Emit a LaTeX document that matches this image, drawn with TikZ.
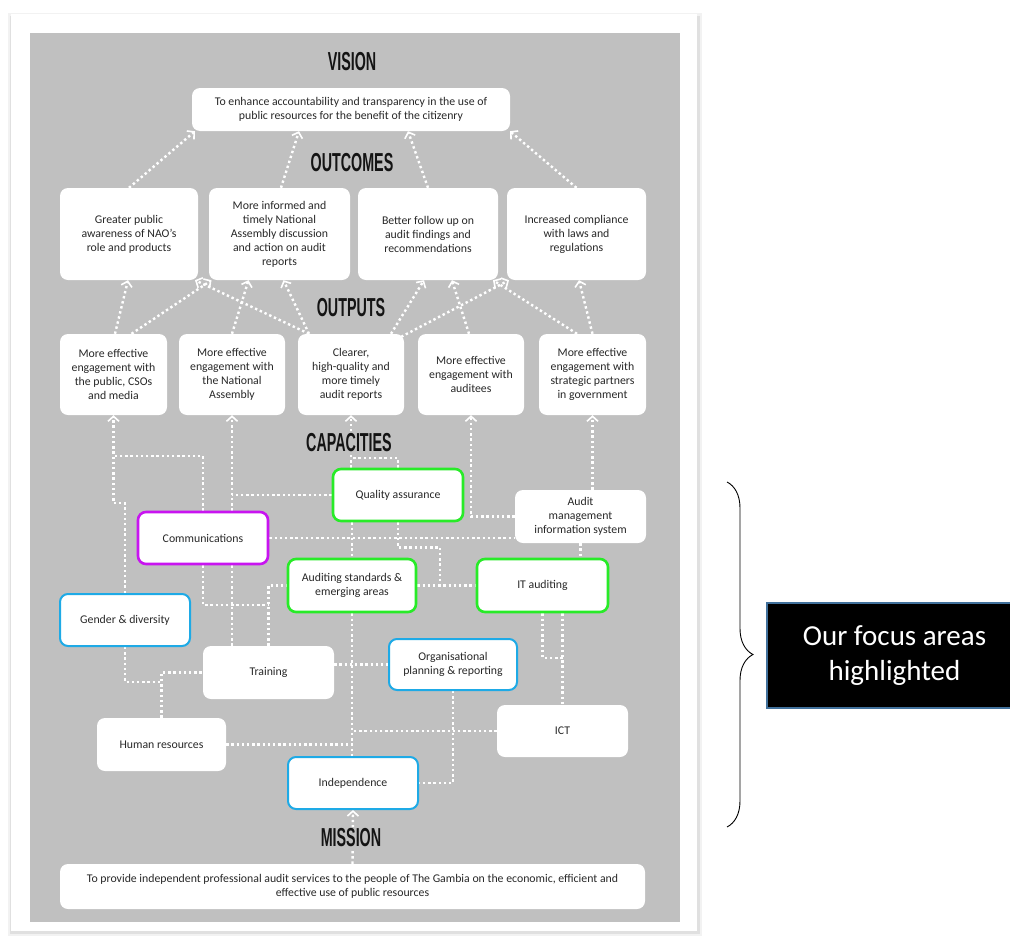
\documentclass[tikz,border=0pt]{standalone}
\usepackage{fontspec}
\usepackage{graphicx}
\setmainfont{Carlito}
\newfontfamily\headfont{Liberation Sans}
\usetikzlibrary{arrows.meta,calc,decorations.pathreplacing}
\pgfdeclarelayer{bgzero}
\pgfdeclarelayer{background}
\pgfsetlayers{bgzero,background,main}
\definecolor{panel}{RGB}{192,192,192}
\definecolor{txt}{RGB}{40,40,40}
\definecolor{titlecol}{RGB}{20,20,20}
\definecolor{focusgreen}{RGB}{40,235,40}
\definecolor{focuspurple}{RGB}{200,20,240}
\definecolor{focusblue}{RGB}{30,170,230}
\definecolor{calloutedge}{RGB}{65,113,156}
\newcommand\bodyfont{\fontsize{11.8}{14}\selectfont}
\newcommand\ttltext[1]{\scalebox{0.55}[1]{#1}}
\begin{document}
\begin{tikzpicture}[x=1pt,y=-1pt,
  box/.style={rounded corners=8pt, fill=white, align=center, font=\bodyfont, text=txt, inner sep=1pt},
  gbox/.style={box, draw=focusgreen, line width=2.6pt},
  pbox/.style={box, draw=focuspurple, line width=2.6pt},
  bbox/.style={box, draw=focusblue, line width=2pt},
  link/.style={white, line width=2.4pt, dash pattern=on 2.4pt off 2.8pt},
  arr/.style={link, -{Straight Barb[length=5pt,width=11pt,line width=1.6pt]}},
  ttl/.style={fill=panel, inner sep=2pt, text=titlecol, font=\headfont\bfseries\fontsize{26}{26}\selectfont}
]
\useasboundingbox (0,0) rectangle (1010,937);
% page
\begin{pgfonlayer}{bgzero}
\fill[black!5] (8,13) rectangle (702,936);
\fill[black!12] (9.5,15.5) rectangle (699.5,933.5);
\fill[white] (11,14) rectangle (697,931);
\fill[panel] (30,33) rectangle (680,922);
\end{pgfonlayer}

% titles
\node[ttl] (tvision) at (352,62) {\ttltext{VISION}};
\node[ttl] (toutcomes) at (352,163) {\ttltext{OUTCOMES}};
\node[ttl] (toutputs) at (351,308) {\ttltext{OUTPUTS}};
\node[ttl] (tcap) at (349,443) {\ttltext{CAPACITIES}};
\node[ttl] (tmission) at (351,838) {\ttltext{MISSION}};

% vision
\node[box, minimum width=318, minimum height=43] (vision) at (351,109.5)
  {To enhance accountability and transparency in the use of\\public resources for the benefit of the citizenry};

% outcomes
\node[box, minimum width=138, minimum height=92] (oc1) at (129,234)
  {Greater public\\awareness of NAO’s\\role and products};
\node[box, minimum width=141, minimum height=92] (oc2) at (279.5,234)
  {More informed and\\timely National\\Assembly discussion\\and action on audit\\reports};
\node[box, minimum width=140, minimum height=92] (oc3) at (428,234)
  {Better follow up on\\audit findings and\\recommendations};
\node[box, minimum width=139, minimum height=92] (oc4) at (576.5,234)
  {Increased compliance\\with laws and\\regulations};

% outputs
\node[box, minimum width=107, minimum height=81] (op1) at (113.5,374.5)
  {More effective\\engagement with\\the public, CSOs\\and media};
\node[box, minimum width=106, minimum height=81] (op2) at (232,374.5)
  {More effective\\engagement with\\the National\\Assembly};
\node[box, minimum width=106, minimum height=81] (op3) at (351,374.5)
  {Clearer,\\high-quality and\\more timely\\audit reports};
\node[box, minimum width=106, minimum height=81] (op4) at (471,374.5)
  {More effective\\engagement with\\auditees};
\node[box, minimum width=107, minimum height=81] (op5) at (592.5,374.5)
  {More effective\\engagement with\\strategic partners\\in government};

% capacities
\node[gbox, minimum width=130, minimum height=52] (qa) at (398,495) {Quality assurance};
\node[box, minimum width=131, minimum height=53] (amis) at (580.5,516.5) {Audit\\management\\information system};
\node[pbox, minimum width=130, minimum height=52] (comms) at (203,538) {Communications};
\node[gbox, minimum width=128, minimum height=53] (audstd) at (352,585.5) {Auditing standards \&\\emerging areas};
\node[gbox, minimum width=131, minimum height=53] (it) at (542.5,585.5) {IT auditing};
\node[bbox, minimum width=130, minimum height=52] (gender) at (125,620) {Gender \& diversity};
\node[box, minimum width=131, minimum height=53] (training) at (268.5,672.5) {Training};
\node[bbox, minimum width=128, minimum height=51] (opr) at (453,664.5) {Organisational\\planning \& reporting};
\node[box, minimum width=129, minimum height=53] (hr) at (161.5,744.5) {Human resources};
\node[box, minimum width=131, minimum height=52] (ict) at (562.5,731) {ICT};
\node[bbox, minimum width=130, minimum height=52] (indep) at (353,783) {Independence};

% mission
\node[box, minimum width=585, minimum height=45] (mission) at (352.5,886.5)
  {To provide independent professional audit services to the people of The Gambia on the economic, efficient and\\effective use of public resources};

% connectors
\begin{pgfonlayer}{background}
% outcomes -> vision
\draw[arr] (oc1.north) -- ([xshift=-156pt]vision.south);
\draw[arr] ([xshift=1.5pt]oc2.north) -- ([xshift=-52pt]vision.south);
\draw[arr] (oc3.north) -- ([xshift=57pt]vision.south);
\draw[arr] (oc4.north) -- ([xshift=159pt]vision.south);
% outputs -> outcomes
\draw[arr] ([xshift=1.5pt]op1.north) -- ([xshift=-1pt]oc1.south);
\draw[arr] ([xshift=18pt]op1.north) -- ([xshift=-68pt]oc2.south);
\draw[arr] (op2.north) -- ([xshift=-31pt]oc2.south);
\draw[arr] ([xshift=-42pt]op3.north) -- ([xshift=66pt]oc1.south);
\draw[arr] ([xshift=-42pt]op3.north) -- ([xshift=4pt]oc2.south);
\draw[arr] ([xshift=40pt]op3.north) -- ([xshift=-4pt]oc3.south);
\draw[arr] ([xshift=-3pt,yshift=-3pt]op3.north east) -- ([xshift=-67.5pt]oc4.south);
\draw[arr] ([xshift=-2pt]op4.north) -- ([xshift=24pt]oc3.south);
\draw[arr] ([xshift=-15.5pt]op5.north) -- ([xshift=65pt]oc3.south);
\draw[arr] (op5.north) -- ([xshift=2.5pt]oc4.south);
% capacities -> outputs
\draw[arr] (gender.north) |- ($(op1.south)+(0,88)$) -- (op1.south);
\draw[link] (comms.north) |- ($(op1.south)+(0,41)$);
\draw[arr] (comms.north -| op2.south) -- (op2.south);
\draw[link] (qa.west) -- (qa.west -| op2.south);
\draw[link] (comms.south -| op2.south) -- (training.north -| op2.south);
\draw[link] (comms.south) |- ($(training.north)+(0,-41)$);
\draw[link] (training.north) |- (audstd.west);
\draw[arr] (qa.north -| op3.south) -- (op3.south);
\draw[link] (qa.north) |- ($(op3.south)+(0,43)$);
\draw[link] (qa.south -| audstd.north) -- (audstd.north);
\draw[link] (qa.south) -- ++(0,25) -| ($(audstd.east)!0.39!(it.west)$);
\draw[link] (audstd.east) -- (it.west);
\draw[link] (comms.east) -- (comms.east -| amis.west);
\draw[arr] (amis.west) -| (op4.south);
\draw[arr] (amis.north -| op5.south) -- (op5.south);
\draw[link] (amis.south) -- (amis.south |- it.north);
\draw[link] (it.south -| ict.north) -- (ict.north);
\draw[link] (it.south) |- ($(ict.north)+(0,-47)$);
\draw[link] (training.east |- opr.west) -- (opr.west);
\draw[link] (opr.south) |- (indep.east);
\draw[link] (ict.west) -- (ict.west -| audstd.south);
\draw[link] (hr.east) -- (hr.east -| audstd.south);
\draw[link] (audstd.south) -- (audstd.south |- indep.north);
\draw[link] (hr.north) |- (training.west);
\draw[link] (gender.south) |- ($(hr.north)+(0,-36)$);
\draw[arr] (mission.north) -- (indep.south);
\end{pgfonlayer}

% brace and callout
\draw[line width=0.9pt, decorate, decoration={brace, amplitude=26pt}] (727,482) -- (727,827);
\node[fill=black, draw=calloutedge, line width=1.5pt, minimum width=255, minimum height=105, text=white, align=center, font=\fontsize{29}{35}\selectfont] (callout) at (894.5,655.5) {Our focus areas\\highlighted};
\end{tikzpicture}
\end{document}
